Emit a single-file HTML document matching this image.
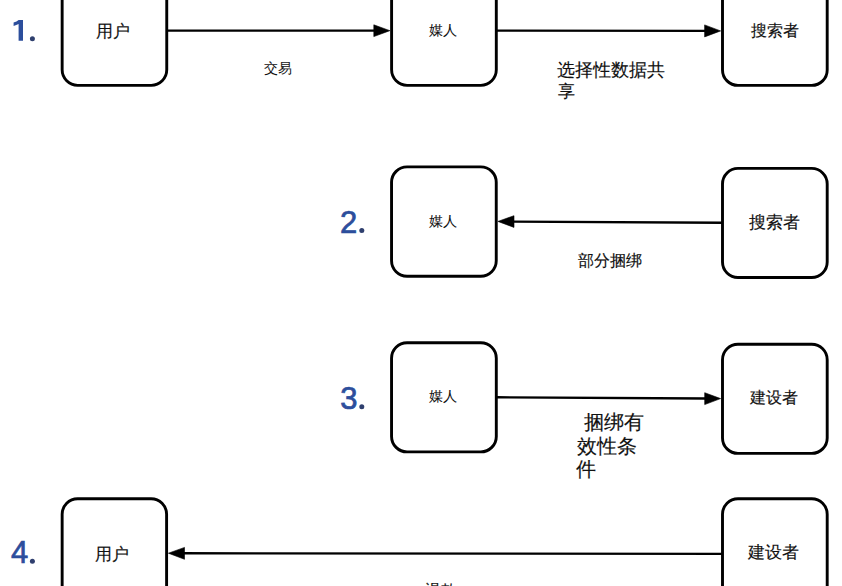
<!DOCTYPE html>
<html>
<head>
<meta charset="utf-8">
<style>
html,body{margin:0;padding:0;background:#fff;}
body{width:842px;height:586px;overflow:hidden;position:relative;font-family:"Liberation Sans",sans-serif;}
svg{position:absolute;left:0;top:0;}
.t{position:absolute;white-space:nowrap;color:#111;line-height:1;-webkit-text-stroke:0.15px #111;}
.num{position:absolute;font-weight:normal;color:#2c4e9c;font-size:31px;line-height:1;-webkit-text-stroke:0.7px #2c4e9c;}
</style>
</head>
<body>
<svg width="842" height="586" viewBox="0 0 842 586">
<g fill="none" stroke="#000" stroke-width="2.9">
<rect x="62.15" y="-23.85" width="104.6" height="109.2" rx="15.5"/>
<rect x="391.6" y="-23.85" width="104.7" height="109.2" rx="15.5"/>
<rect x="722.5" y="-23.8" width="104.7" height="109.2" rx="15.5"/>
<rect x="391.55" y="166.85" width="104.7" height="109.35" rx="15.5"/>
<rect x="722.5" y="168.4" width="104.7" height="109.1" rx="15.5"/>
<rect x="391.55" y="342.8" width="104.75" height="109.1" rx="15.5"/>
<rect x="722.5" y="344.3" width="104.7" height="109.1" rx="15.5"/>
<rect x="62.15" y="498.75" width="104.45" height="109.2" rx="15.5"/>
<rect x="722.5" y="498.7" width="104.7" height="109.2" rx="15.5"/>
</g>
<g stroke="#000" stroke-width="2.4" fill="none">
<line x1="166" y1="30.65" x2="375" y2="30.65"/>
<line x1="496.5" y1="30.6" x2="706" y2="30.9"/>
<line x1="512" y1="221.6" x2="723" y2="222.75"/>
<line x1="496.5" y1="397.3" x2="706" y2="398.5"/>
<line x1="183" y1="553.3" x2="723" y2="553.9"/>
</g>
<g fill="#000" stroke="#000" stroke-width="0.6" stroke-linejoin="miter">
<polygon points="373.8,24.8 389.9,30.65 373.8,36.6"/>
<polygon points="704.6,24.9 720.6,30.9 704.6,36.9"/>
<polygon points="514,215.7 497.9,221.4 514,227.4"/>
<polygon points="704.7,392.7 720.6,398.6 704.7,404.6"/>
<polygon points="184.5,547.4 168.4,553.2 184.5,559.3"/>
</g>
</svg>

<div class="num" style="left:340px;top:207px;">2</div>
<div class="num" style="left:340.2px;top:383px;">3</div>
<div class="num" style="left:11px;top:537px;">4</div>
<svg width="842" height="586" viewBox="0 0 842 586">
<g fill="#2c4e9c">
<path d="M18.6,19.9 L23,19.9 L23,40.7 L18.6,40.7 L18.6,24 Q16.5,25.3 13.6,25.9 L13.6,22.4 Q16.8,21.6 18.6,19.9 Z"/>
<circle cx="32.4" cy="38.7" r="2.5" fill="#2f3f6e"/>
<circle cx="361.8" cy="230.6" r="2.5" fill="#2f3f6e"/>
<circle cx="361.8" cy="406.7" r="2.5" fill="#2f3f6e"/>
<circle cx="32.4" cy="561.2" r="2.5" fill="#2f3f6e"/>
</g>
</svg>

<div class="t" style="left:95.6px;top:22.6px;font-size:16.5px;">用户</div>
<div class="t" style="left:428.8px;top:24.0px;font-size:13.5px;-webkit-text-stroke:0.05px #111;">媒人</div>
<div class="t" style="left:750.6px;top:23.2px;font-size:15.5px;">搜索者</div>
<div class="t" style="left:264.0px;top:62.2px;font-size:13.5px;-webkit-text-stroke:0.05px #111;">交易</div>
<div class="t" style="left:557.4px;top:61.5px;font-size:17.5px;">选择性数据共</div>
<div class="t" style="left:557.8px;top:82.5px;font-size:16.5px;">享</div>
<div class="t" style="left:429.2px;top:215.0px;font-size:13.5px;-webkit-text-stroke:0.05px #111;">媒人</div>
<div class="t" style="left:749.2px;top:213.6px;font-size:16.5px;">搜索者</div>
<div class="t" style="left:577.8px;top:252.6px;font-size:15.5px;">部分捆绑</div>
<div class="t" style="left:428.8px;top:389.8px;font-size:13.5px;-webkit-text-stroke:0.05px #111;">媒人</div>
<div class="t" style="left:749.6px;top:390.0px;font-size:15.5px;">建设者</div>
<div class="t" style="left:584.2px;top:413.3px;font-size:19.5px;">捆绑有</div>
<div class="t" style="left:576.6px;top:436.6px;font-size:19.5px;">效性条</div>
<div class="t" style="left:575.8px;top:460.0px;font-size:19.5px;">件</div>
<div class="t" style="left:95.3px;top:545.7px;font-size:16.5px;">用户</div>
<div class="t" style="left:748.2px;top:543.6px;font-size:16.5px;">建设者</div>
<div class="t" style="left:425.2px;top:582.9px;font-size:15.5px;">退款</div>
</body>
</html>
